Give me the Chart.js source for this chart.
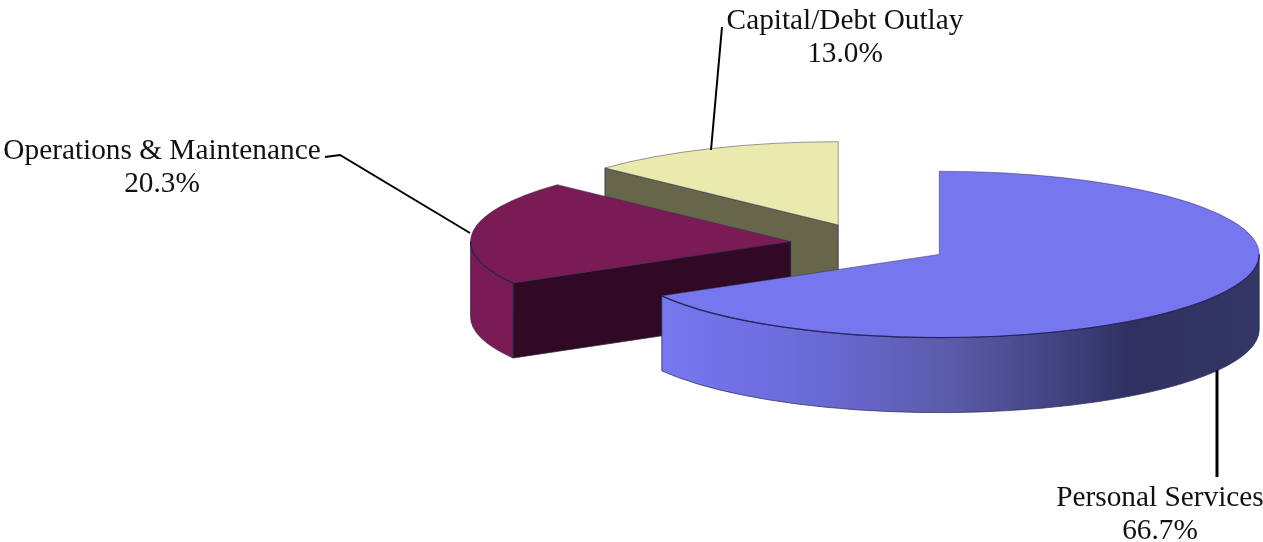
<!DOCTYPE html>
<html>
<head>
<meta charset="utf-8">
<title>Expenditures by category</title>
<script src="https://cdn.jsdelivr.net/npm/chart.js@4"></script>
<style>
  html, body { margin: 0; padding: 0; background: #ffffff; }
  #chartBox { position: relative; width: 1263px; height: 542px; }
</style>
</head>
<body>
<div id="chartBox"><canvas id="budgetPie"></canvas></div>
<script>
const categories = ["Personal Services", "Operations & Maintenance", "Capital/Debt Outlay"];
const shares = [66.7, 20.3, 13.0];

const topColors = ["#7676ee", "#7a1b55", "#eaeaae"];
const faceColors = ["#33355f", "#300a25", "#66664a"];

const pieRadius = 320;
const explode = 80;
const squash = 0.26;
const depth = 75;

// label centre x, first baseline, and the leader line next to it
const labelLayout = [
    { x: 1160, y: 506, leader: [[1217, 370], [1217, 477]], width: 3 },
    { x: 162, y: 159, leader: [[325, 157], [340, 155], [470, 233]], width: 2 },
    { x: 845, y: 29, leader: [[722, 27], [711, 150]], width: 2 }
];

// slice apex after pulling it out along its middle angle, in the flattened view
function apexOf(arc) {
    const mid = (arc.startAngle + arc.endAngle) / 2;
    return {
        x: arc.x + Math.cos(mid) * explode,
        y: arc.y + Math.sin(mid) * explode * squash
    };
}

function drawCutFace(ctx, apex, radius, angle, color) {
    const px = apex.x + Math.cos(angle) * radius;
    const py = apex.y + Math.sin(angle) * radius * squash;
    ctx.beginPath();
    ctx.moveTo(apex.x, apex.y);
    ctx.lineTo(px, py);
    ctx.lineTo(px, py + depth);
    ctx.lineTo(apex.x, apex.y + depth);
    ctx.closePath();
    ctx.fillStyle = color;
    ctx.fill();
    ctx.lineWidth = 1;
    ctx.strokeStyle = "rgba(40, 30, 50, 0.7)";
    ctx.stroke();
}

function drawRimWall(ctx, apex, radius, from, to, fill) {
    ctx.beginPath();
    ctx.ellipse(apex.x, apex.y, radius, radius * squash, 0, from, to, false);
    ctx.ellipse(apex.x, apex.y + depth, radius, radius * squash, 0, to, from, true);
    ctx.closePath();
    ctx.fillStyle = fill;
    ctx.fill();
    ctx.lineWidth = 1;
    ctx.strokeStyle = "rgba(40, 40, 80, 0.7)";
    ctx.stroke();
}

const extrusion = {
    id: "extrusion",
    beforeDatasetDraw(chart) {
        const ctx = chart.ctx;
        const arcs = chart.getDatasetMeta(0).data;

        // back slices first so the nearer walls cover them
        for (let i = arcs.length - 1; i >= 0; i--) {
            const arc = arcs[i];
            const apex = apexOf(arc);
            if (Math.cos(arc.startAngle) < -0.001) {
                drawCutFace(ctx, apex, arc.outerRadius, arc.startAngle, faceColors[i]);
            }
            const from = Math.max(arc.startAngle, 0);
            const to = Math.min(arc.endAngle, Math.PI);
            if (to > from) {
                let fill = topColors[i];
                if (i === 0) {
                    const shade = ctx.createLinearGradient(apex.x - arc.outerRadius, 0, apex.x + arc.outerRadius, 0);
                    shade.addColorStop(0.08, "#7676ee");
                    shade.addColorStop(0.22, "#6f6fe2");
                    shade.addColorStop(0.4, "#6464c4");
                    shade.addColorStop(0.52, "#5a5aa8");
                    shade.addColorStop(0.62, "#4b4c90");
                    shade.addColorStop(0.72, "#3c3e78");
                    shade.addColorStop(0.8, "#2f3060");
                    shade.addColorStop(1, "#343665");
                    fill = shade;
                }
                drawRimWall(ctx, apex, arc.outerRadius, from, to, fill);
            }
        }

        // tops are the chart's own arc elements, moved out and flattened
        arcs.forEach(arc => {
            const apex = apexOf(arc);
            ctx.save();
            ctx.translate(apex.x, apex.y);
            ctx.scale(1, squash);
            ctx.translate(-arc.x, -arc.y);
            arc.draw(ctx);
            ctx.restore();

            // the flattened border goes thin along the front, so go over that part again
            const from = Math.max(arc.startAngle, 0);
            const to = Math.min(arc.endAngle, Math.PI);
            if (to > from) {
                ctx.beginPath();
                ctx.ellipse(apex.x, apex.y, arc.outerRadius, arc.outerRadius * squash, 0, from, to, false);
                ctx.lineWidth = 1.2;
                ctx.strokeStyle = "rgba(35, 30, 85, 0.85)";
                ctx.stroke();
            }
        });
        return false;
    },
    afterDraw(chart) {
        const ctx = chart.ctx;
        ctx.save();
        ctx.fillStyle = "#111111";
        ctx.strokeStyle = "#000000";
        ctx.font = '29.3px "Liberation Serif"';
        ctx.textAlign = "center";
        categories.forEach((name, i) => {
            const spot = labelLayout[i];
            ctx.fillText(name, spot.x, spot.y);
            ctx.fillText(shares[i].toFixed(1) + "%", spot.x, spot.y + 33);
            ctx.beginPath();
            spot.leader.forEach((pt, k) => k ? ctx.lineTo(pt[0], pt[1]) : ctx.moveTo(pt[0], pt[1]));
            ctx.lineWidth = spot.width;
            ctx.stroke();
        });
        ctx.restore();
    }
};

new Chart(document.getElementById("budgetPie"), {
    type: "pie",
    data: {
        labels: categories,
        datasets: [{
            data: shares,
            backgroundColor: topColors,
            borderColor: "rgba(45, 40, 80, 0.75)",
            borderWidth: 1,
            clip: false
        }]
    },
    options: {
        responsive: true,
        maintainAspectRatio: false,
        animation: false,
        events: [],
        radius: pieRadius,
        layout: { padding: { left: 477, bottom: 54 } },
        plugins: {
            legend: { display: false },
            title: { display: false },
            tooltip: { enabled: false }
        }
    },
    plugins: [extrusion]
});
</script>
</body>
</html>
